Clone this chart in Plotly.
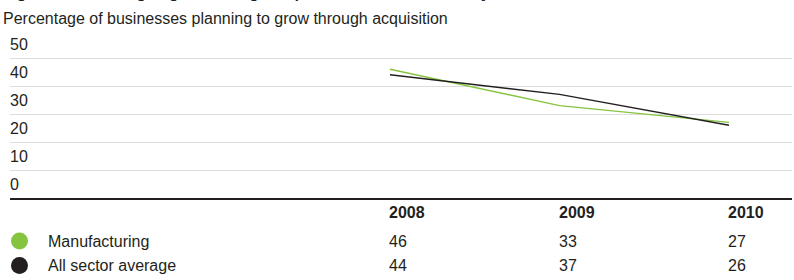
import plotly.graph_objects as go

years = [2008, 2009, 2010]
series_names = ["Manufacturing", "All sector average"]
manufacturing = [46, 33, 27]
all_sector = [44, 37, 26]
series_colors = ["#86c440", "#231f20"]
y_ticks = [0, 10, 20, 30, 40, 50]
title_text = "Figure 12: Planning to grow through acquisition in the next three years"
subtitle_text = "Percentage of businesses planning to grow through acquisition"

FONT = "Liberation Sans, Arial, sans-serif"
FS = 16
TXT = "#231f20"
W, H = 794, 280
ML, MR, MT, MB = 10, 2, 30, 81.5

fig = go.Figure()
for name, vals, col in zip(series_names, [manufacturing, all_sector], series_colors):
    fig.add_trace(go.Scatter(x=years, y=vals, mode="lines", name=name,
                             line=dict(color=col, width=1.4), showlegend=False,
                             hoverinfo="skip"))

annotations = []
# y tick labels, placed above their gridlines
for v in y_ticks:
    annotations.append(dict(x=0, xref="paper", y=v + 5, yref="y", text=str(v),
                            showarrow=False, xanchor="left", yanchor="middle",
                            xshift=-2, font=dict(family=FONT, size=FS, color=TXT)))

# title (cut off at the top edge, as in the reference) & subtitle
annotations.append(dict(x=0, xref="paper", y=1, yref="paper", yanchor="middle", xanchor="left",
                        yshift=MT + 8, xshift=-9, text="<b>" + title_text + "</b>", showarrow=False,
                        font=dict(family=FONT, size=15.4, color=TXT)))
annotations.append(dict(x=0, xref="paper", y=1, yref="paper", yanchor="middle", xanchor="left",
                        yshift=MT - 18.5, xshift=-9, text=subtitle_text, showarrow=False,
                        font=dict(family=FONT, size=FS, color=TXT)))

# table below the chart
row_header_y = 213
row_ys = [241.5, 266]
base_py = H - MB
for yr in years:
    annotations.append(dict(x=yr, xref="x", y=0, yref="paper", yanchor="middle", xanchor="left",
                            yshift=-(row_header_y - base_py), xshift=-3, text="<b>%d</b>" % yr,
                            showarrow=False, font=dict(family=FONT, size=FS, color=TXT)))
shapes = []
for name, vals, col, py in zip(series_names, [manufacturing, all_sector], series_colors, row_ys):
    annotations.append(dict(x=0, xref="paper", y=0, yref="paper", yanchor="middle", xanchor="left",
                            yshift=-(py - base_py), xshift=36, text=name, showarrow=False,
                            font=dict(family=FONT, size=FS, color=TXT)))
    for yr, v in zip(years, vals):
        annotations.append(dict(x=yr, xref="x", y=0, yref="paper", yanchor="middle", xanchor="left",
                                yshift=-(py - base_py), xshift=-3, text=str(v), showarrow=False,
                                font=dict(family=FONT, size=FS, color=TXT)))
    shapes.append(dict(type="circle", xref="paper", yref="paper", xsizemode="pixel", ysizemode="pixel",
                       xanchor=0, yanchor=0, x0=1, x1=18, y0=-(py - base_py) - 8.5,
                       y1=-(py - base_py) + 8.5, fillcolor=col, line=dict(width=0)))

px_per_year = 169.5
x0 = 2008 - (390 - ML) / px_per_year
x1 = 2010 + (W - MR - 729) / px_per_year

fig.update_layout(
    width=W, height=H,
    margin=dict(l=ML, r=MR, t=MT, b=MB, pad=0),
    paper_bgcolor="white", plot_bgcolor="white",
    xaxis=dict(range=[x0, x1], showgrid=False, zeroline=False, showticklabels=False, ticks="",
               showline=True, linecolor=TXT, linewidth=1.5, fixedrange=True),
    yaxis=dict(range=[0, 60], tickvals=[10, 20, 30, 40, 50, 60], showticklabels=False, ticks="",
               gridcolor="#dcdcdc", gridwidth=1, zeroline=False, showline=False, fixedrange=True),
    annotations=annotations,
    shapes=shapes,
    showlegend=False,
)

fig.write_html("out.html", config={"displayModeBar": False},
               post_script="document.body.style.margin='0';document.body.style.padding='0';")
